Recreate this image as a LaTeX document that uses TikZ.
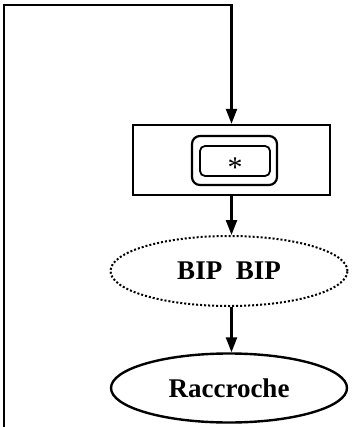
\documentclass[tikz,border=0pt]{standalone}
\usepackage{fontspec}
\setmainfont{Liberation Serif}
\usetikzlibrary{arrows.meta,shapes.geometric}
\begin{document}
\begin{tikzpicture}[x=1pt,y=-1pt,
  arr/.style={line width=2.4pt,-{Triangle[length=15pt,width=11pt]}},
  outerbox/.style={draw,line width=2.4pt,rectangle,minimum width=197pt,minimum height=70pt,inner sep=0pt},
  keyout/.style={draw,line width=2.2pt,rectangle,rounded corners=8pt,minimum width=85pt,minimum height=49pt,inner sep=0pt},
  keyin/.style={draw,line width=1.8pt,rectangle,rounded corners=5pt,minimum width=70pt,minimum height=30pt,inner sep=0pt,font=\fontsize{30}{30}\selectfont},
  dotell/.style={draw,ellipse,line width=2pt,dotted,minimum width=237pt,minimum height=70pt,inner sep=0pt,font=\fontsize{27}{27}\selectfont\bfseries},
  solell/.style={draw,ellipse,line width=2.4pt,minimum width=236pt,minimum height=69pt,inner sep=0pt,font=\fontsize{27}{27}\selectfont\bfseries}
]
\useasboundingbox (0,0) rectangle (352,427);
\node[outerbox] (box) at (231.5,160) {};
\node[keyout] (kout) at (234.5,160.5) {};
\node[keyin] (kin) at (235,161) {};
\node[font=\fontsize{30}{30}\selectfont] (star) at (235,168) {*};
\node[dotell] (bip) at (229,271) {BIP\ \ BIP};
\node[solell] (rac) at (229,388) {Raccroche};
\coordinate (lb) at (4,427);
\coordinate (tl) at (4,5);
\draw[arr] (lb) -- (tl) -| (box.north);
\draw[arr] (box.south) -- (box.south |- bip.north);
\draw[arr] (box.south |- bip.south) -- (box.south |- rac.north);
\end{tikzpicture}
\end{document}
